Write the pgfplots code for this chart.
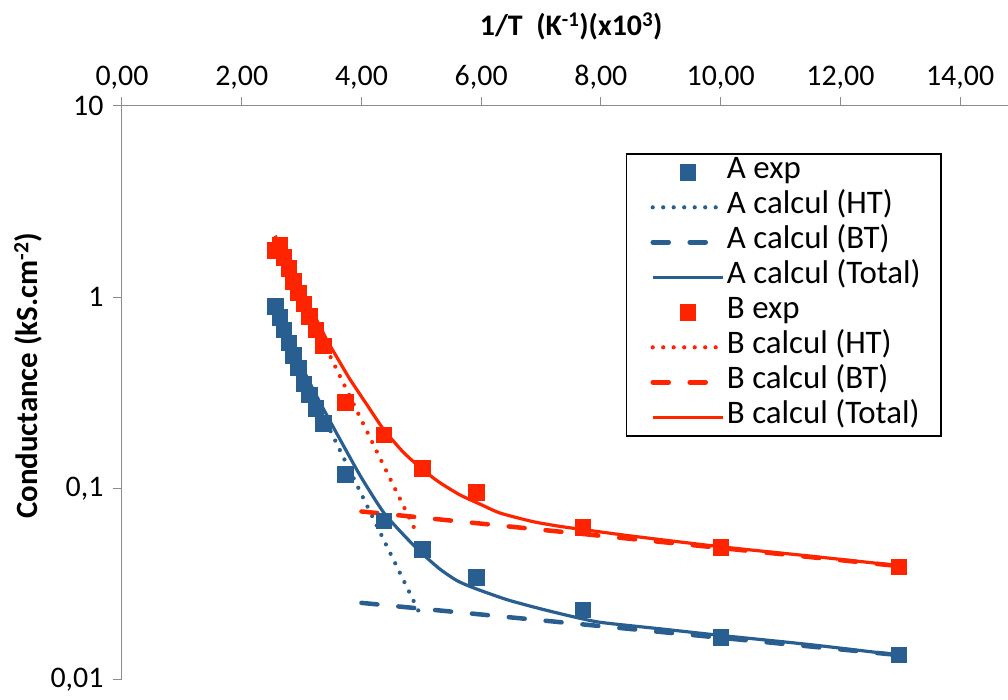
\documentclass[border=0pt]{standalone}
\usepackage{fontspec}
\setmainfont{Carlito}
\usepackage{pgfplots}
\pgfplotsset{compat=1.18}
\definecolor{cblue}{RGB}{41,94,145}
\definecolor{cred}{RGB}{255,36,0}
\definecolor{axgray}{RGB}{140,140,140}
\pgfplotsset{
  lineleg/.style={legend image code/.code={\path[draw=none,fill=none] (0bp,0bp) -- (80bp,0bp);\draw[##1] (8bp,0bp) -- (78bp,0bp);}},
  markleg/.style={legend image code/.code={\path[draw=none,fill=none] (0bp,0bp) -- (80bp,0bp);\draw[##1] plot coordinates {(43bp,0bp)};}},
  expA/.style={only marks, mark=square*, mark size=7.8bp, mark options={draw=cblue, fill=cblue, line width=0.1bp, solid}, markleg},
  expB/.style={only marks, mark=square*, mark size=7.8bp, mark options={draw=cred, fill=cred, line width=0.1bp, solid}, markleg},
  htl/.style={no marks, line width=4.2bp, line cap=round, dash pattern=on 0bp off 10.5bp, lineleg},
  btl/.style={no marks, line width=4.5bp, line cap=round, dash pattern=on 16bp off 21bp, lineleg},
  totl/.style={no marks, line width=3.2bp, smooth, tension=0.4, lineleg},
}
\begin{document}
\begin{tikzpicture}
\begin{axis}[
  scale only axis, width=886bp, height=574bp,
  xmin=0, xmax=14.8, ymin=0.01, ymax=10, ymode=log,
  axis x line*=top, axis y line*=left,
  axis line style={-, draw=axgray, line width=1bp},
  tick style={draw=axgray, line width=1bp},
  tick align=outside, major tick length=9bp,
  xminorticks=false, yminorticks=false,
  xtick={0,2,4,6,8,10,12,14},
  ytick={0.01,0.1,1,10},
  yticklabels={{0,01},{0,1},{1},{10}},
  /pgf/number format/fixed, /pgf/number format/fixed zerofill,
  /pgf/number format/precision=2, /pgf/number format/use comma,
  /pgf/number format/assume math mode=true,
  ticklabel style={font=\fontsize{30}{34}\selectfont, text=black},
  xticklabel style={yshift=4bp},
  yticklabel style={xshift=-6bp},
  xlabel={\textbf{1/T~~(K\textsuperscript{-1})(x10\textsuperscript{3})}},
  xlabel style={font=\fontsize{30}{34}\selectfont, at={(axis description cs:0.507,1.138)}, anchor=center},
  ylabel={\textbf{Conductance (kS.cm\textsuperscript{-2})}},
  ylabel style={font=\fontsize{31}{34}\selectfont, at={(axis description cs:-0.106,0.53)}, anchor=center},
  legend style={at={(axis description cs:0.5688,0.918)}, anchor=north west,
    draw=black, line width=1.5bp, font=\fontsize{33}{36}\selectfont,
    inner xsep=18bp, inner ysep=1bp, row sep=0bp,
    nodes={inner sep=2bp, text height=22bp, text depth=9bp}},
  legend cell align=left,
]
\addplot[expA] coordinates {
(2.56,0.90) (2.63,0.79) (2.70,0.68) (2.78,0.58) (2.86,0.50) (2.94,0.43)
(3.03,0.355) (3.125,0.31) (3.23,0.263) (3.36,0.22) (3.73,0.119) (4.37,0.068)
(5.01,0.0485) (5.91,0.0344) (7.69,0.0234) (10.0,0.0168) (12.97,0.0136)};
\addlegendentry{A exp}
\addplot[htl, cblue] coordinates {(2.56,0.78) (5.02,0.0208)};
\addlegendentry{A calcul (HT)}
\addplot[btl, cblue] coordinates {(4.0,0.0253) (12.97,0.0135)};
\addlegendentry{A calcul (BT)}
\addplot[totl, cblue] coordinates {
(2.56,0.81) (2.8,0.578) (3.0,0.435) (3.25,0.305) (3.5,0.218) (3.75,0.157)
(4.0,0.114) (4.365,0.0755) (4.7,0.0575) (5.0,0.0462) (5.31,0.0380) (5.6,0.0330)
(5.91,0.0300) (6.43,0.0263) (6.98,0.0236) (7.54,0.0214) (8.0,0.0200) (9.0,0.0185)
(10.0,0.0171) (11.5,0.0153) (12.97,0.0135)};
\addlegendentry{A calcul (Total)}
\addplot[expB] coordinates {
(2.56,1.77) (2.63,1.87) (2.70,1.62) (2.78,1.42) (2.86,1.22) (2.94,1.06)
(3.03,0.93) (3.125,0.80) (3.23,0.68) (3.36,0.56) (3.73,0.284) (4.37,0.192)
(5.01,0.128) (5.91,0.096) (7.69,0.0628) (10.0,0.0497) (12.97,0.0391)};
\addlegendentry{B exp}
\addplot[htl, cred] coordinates {(2.56,1.9) (4.93,0.058)};
\addlegendentry{B calcul (HT)}
\addplot[btl, cred] coordinates {(4.0,0.0760) (12.97,0.0394)};
\addlegendentry{B calcul (BT)}
\addplot[totl, cred] coordinates {
(2.56,2.10) (2.8,1.42) (3.0,1.08) (3.2,0.82) (3.42,0.60) (3.6,0.48) (3.81,0.372)
(4.1,0.272) (4.365,0.205) (4.7,0.155) (5.02,0.126) (5.3,0.108) (5.65,0.0926)
(6.0,0.0825) (6.32,0.0745) (6.87,0.0672) (7.32,0.0635) (7.69,0.0612) (8.5,0.0566)
(10.0,0.0497) (11.5,0.0444) (12.97,0.0396)};
\addlegendentry{B calcul (Total)}
\end{axis}
\pgfresetboundingbox
\path[use as bounding box] ([xshift=-122bp,yshift=-20bp]current axis.south west) rectangle ([yshift=106bp]current axis.north east);
\end{tikzpicture}
\end{document}
